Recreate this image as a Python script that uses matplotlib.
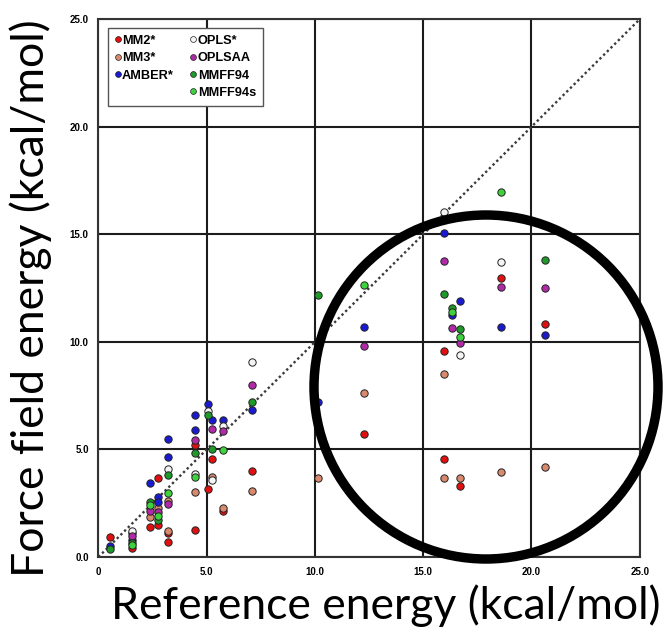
import matplotlib
matplotlib.use("Agg")
import matplotlib.pyplot as plt
from matplotlib.patches import Ellipse
from matplotlib.lines import Line2D

# reference vs force field energies (kcal/mol) for each force field
mm2_x = [0.53, 1.53, 2.38, 2.76, 2.76, 3.22, 3.22, 4.46, 4.46, 5.04, 5.26, 5.76, 7.07,
         10.15, 12.26, 15.95, 15.95, 16.71, 18.58, 20.63]
mm2_y = [0.92, 0.42, 1.41, 3.68, 1.49, 1.13, 0.71, 5.20, 1.25, 3.15, 4.54, 2.14, 4.00,
         9.85, 5.70, 9.60, 4.54, 3.31, 12.95, 10.83]

mm3_x = [1.53, 2.38, 2.76, 3.22, 3.22, 4.46, 5.26, 5.76, 7.07, 10.15, 12.26, 15.95,
         15.95, 16.71, 18.58, 20.63]
mm3_y = [1.10, 1.87, 2.29, 2.60, 1.20, 3.03, 3.73, 2.26, 3.08, 3.66, 7.63, 8.49,
         3.66, 3.66, 3.94, 4.17]

amber_x = [0.53, 1.53, 2.38, 2.76, 2.76, 3.22, 3.22, 4.46, 4.46, 5.04, 5.26, 5.76, 7.07,
           10.15, 12.26, 15.95, 16.35, 16.71, 18.58, 20.63]
amber_y = [0.52, 0.80, 3.42, 2.80, 2.57, 5.50, 4.63, 6.60, 5.90, 7.10, 6.37, 6.35, 6.83,
           7.22, 10.67, 15.04, 11.25, 11.91, 10.70, 10.32]

opls_x = [1.53, 3.22, 4.46, 5.04, 5.26, 5.76, 7.07, 15.95, 16.71, 18.58]
opls_y = [1.20, 4.08, 3.85, 6.80, 3.58, 6.10, 9.08, 16.02, 9.39, 13.72]

oplsaa_x = [1.53, 2.38, 2.76, 3.22, 4.46, 5.26, 5.76, 7.07, 12.26, 15.95, 16.35, 16.71,
            18.58, 20.63]
oplsaa_y = [0.98, 2.14, 2.10, 2.45, 5.44, 5.93, 5.85, 7.99, 9.80, 13.77, 10.63, 9.93,
            12.56, 12.51]

mmff_x = [0.53, 1.53, 2.38, 2.76, 3.22, 4.46, 5.04, 5.26, 7.07, 10.15, 15.95, 16.35,
          16.71, 20.63]
mmff_y = [0.36, 0.65, 2.57, 1.72, 3.81, 4.85, 6.60, 5.02, 7.22, 12.17, 12.25, 11.58,
          10.58, 13.83]

mmffs_x = [1.53, 2.38, 2.76, 3.22, 4.46, 5.76, 12.26, 16.35, 16.71, 18.58]
mmffs_y = [0.55, 2.42, 1.90, 2.99, 3.73, 4.97, 12.64, 11.40, 10.24, 16.95]

series = [
    ("MM2*", mm2_x, mm2_y, "#e01010"),
    ("MM3*", mm3_x, mm3_y, "#d98a6e"),
    ("AMBER*", amber_x, amber_y, "#1a1ad0"),
    ("OPLS*", opls_x, opls_y, "#f4f4f4"),
    ("OPLSAA", oplsaa_x, oplsaa_y, "#b02aa8"),
    ("MMFF94", mmff_x, mmff_y, "#1f9a2a"),
    ("MMFF94s", mmffs_x, mmffs_y, "#3fd23f"),
]

ticks = [0, 5, 10, 15, 20, 25]
xtick_labels = ["0", "5.0", "10.0", "15.0", "20.0", "25.0"]
ytick_labels = ["0.0", "5.0", "10.0", "15.0", "20.0", "25.0"]

fig = plt.figure(figsize=(6.65, 6.41), dpi=100)
ax = fig.add_axes([0.148, 0.131, 0.814, 0.839])

ax.set_xlim(0, 25)
ax.set_ylim(0, 25)
ax.set_xticks(ticks)
ax.set_yticks(ticks)
ax.set_xticklabels(xtick_labels, fontfamily="Liberation Sans", fontweight="bold", fontsize=7)
ax.set_yticklabels(ytick_labels, fontfamily="Liberation Sans", fontweight="bold", fontsize=7)
ax.tick_params(length=0, pad=7)
ax.grid(True, color="#1c1c1c", linewidth=1.5)
ax.set_axisbelow(True)
for sp in ax.spines.values():
    sp.set_color("#333333")
    sp.set_linewidth(1.5)

ax.plot([0, 25], [0, 25], linestyle=(0, (1, 1.2)), color="#3a3a3a", linewidth=1.7, zorder=2)

for name, xs, ys, col in series:
    ax.scatter(xs, ys, s=28, c=col, edgecolors="#222222", linewidths=0.7, zorder=3)

# legend: 3 entries in the first column, 4 in the second
handles = []
labels = []
for name, xs, ys, col in series:
    handles.append(Line2D([], [], marker="o", linestyle="", markersize=4.2,
                          markerfacecolor=col, markeredgecolor="#222222", markeredgewidth=0.5))
    labels.append(name)
handles.insert(3, Line2D([], [], linestyle=""))
labels.insert(3, "")
leg = ax.legend(handles, labels, ncol=2, loc="upper left", bbox_to_anchor=(0.006, 0.996),
                prop={"family": "Liberation Sans", "weight": "bold", "size": 9.2},
                handlelength=0.4, handletextpad=0.15, columnspacing=1.3, labelspacing=0.42,
                borderpad=0.55, fancybox=False, framealpha=1, edgecolor="#555555")
leg.get_frame().set_linewidth(1.0)

ring = Ellipse((486 / 665, 1 - 387 / 641), 344 / 665, 344 / 641, transform=fig.transFigure,
               fill=False, edgecolor="black", linewidth=6.8, zorder=10)
fig.patches.append(ring)

fig.text(31 / 665, 1 - 298 / 641, "Force field energy (kcal/mol)", rotation=90,
         ha="center", va="center", fontfamily="Lato", fontsize=32)
fig.text(386 / 665, 1 - 606 / 641, "Reference energy (kcal/mol)",
         ha="center", va="center", fontfamily="Lato", fontsize=32)

fig.savefig("out.png", dpi=100)
